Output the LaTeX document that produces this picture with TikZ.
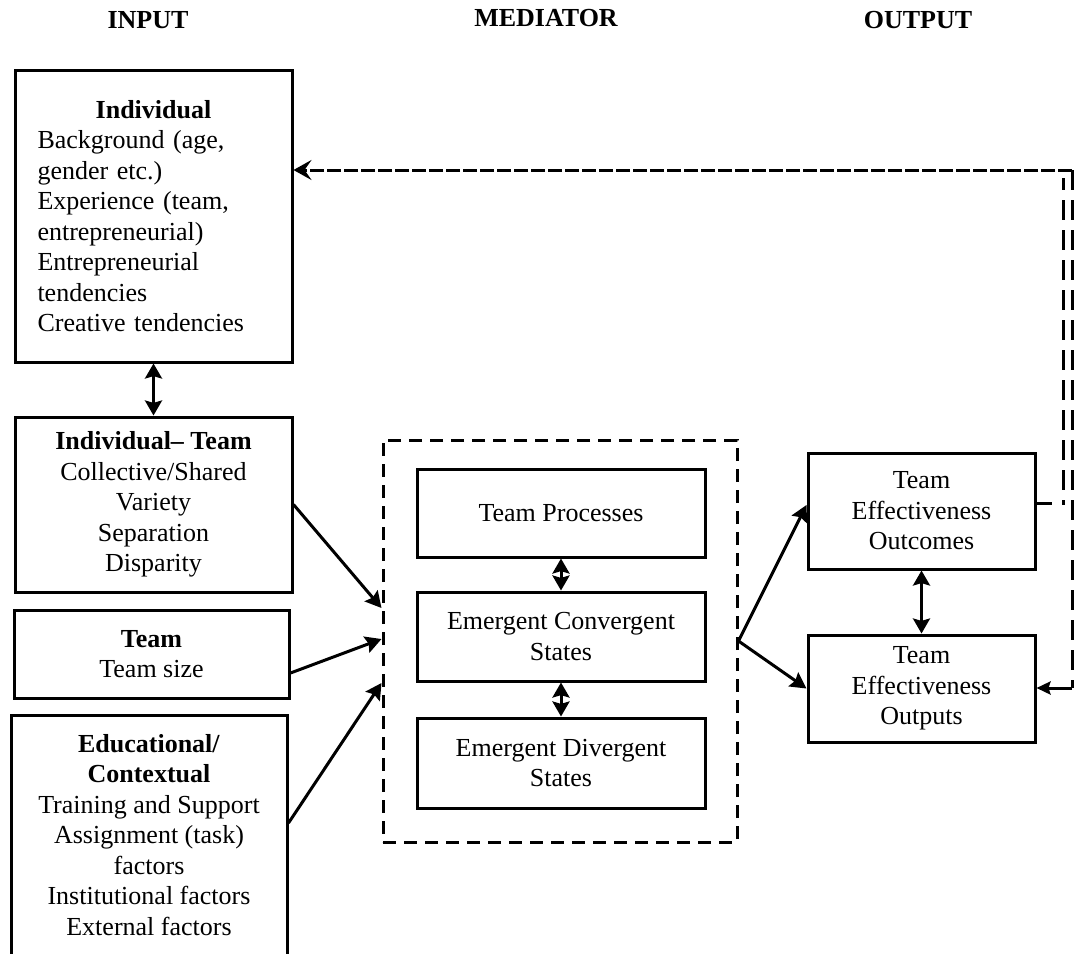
\documentclass[tikz,border=0pt]{standalone}
\usepackage{fontspec}
\setmainfont{Liberation Serif}
\usetikzlibrary{arrows.meta,calc}
\newcommand\bodyfont{\fontsize{13pt}{15.25pt}\selectfont}

\begin{document}
\begin{tikzpicture}[x=0.5pt,y=-0.5pt,
  box/.style={draw, line width=1.5pt, inner sep=0pt, align=center, font=\bodyfont},
  head/.style={font=\bodyfont\bfseries, anchor=base},
  arr/.style={line width=1.5pt, -{Stealth[length=8pt,width=8.5pt,inset=1.2pt]}},
  darr/.style={line width=1.5pt, {Stealth[length=7.5pt,width=8.5pt,inset=1.2pt]}-{Stealth[length=7.5pt,width=8.5pt,inset=1.2pt]}},
  fbh/.style={line width=1.5pt, dash pattern=on 7pt off 1.5pt},
  fbv/.style={line width=1.5pt, dash pattern=on 10pt off 5pt},
]
\useasboundingbox (0,0) rectangle (1075,953);
\clip (0,0) rectangle (1075,953);

% column headings
\node[head] (hin)  at (148,28) {INPUT};
\node[head] (hmed) at (546,26) {MEDIATOR};
\node[head] (hout) at (918,28) {OUTPUT};

% input column
\node[box, minimum width=138.5pt, minimum height=146pt, text width=116pt, align=left] (ind) at (153.5,216)
  {\makebox[\linewidth]{\textbf{Individual}}\\ Background (age,\\ gender etc.)\\ Experience (team,\\ entrepreneurial)\\ Entrepreneurial\\ tendencies\\ Creative tendencies};
\node[box, minimum width=138.5pt, minimum height=87.5pt] (indteam) at (153.5,504.5)
  {\textbf{Individual– Team}\\ Collective/Shared\\ Variety\\ Separation\\ Disparity};
\node[box, minimum width=137.5pt, minimum height=44pt] (team) at (151.5,654)
  {\textbf{Team}\\ Team size};
\node[box, minimum width=138pt, minimum height=120pt] (edu) at (149,835)
  {\textbf{Educational/}\\ \textbf{Contextual}\\ Training and Support\\ Assignment (task)\\ factors\\ Institutional factors\\ External factors};

% mediator column
\node[draw, line width=1.5pt, dash pattern=on 6.5pt off 4pt, minimum width=177pt, minimum height=201pt, inner sep=0pt] (med) at (560,641) {};
\node[box, minimum width=144pt, minimum height=44pt] (proc) at (561,513) {Team Processes};
\node[box, minimum width=144pt, minimum height=44.5pt] (conv) at (561,636.5) {Emergent Convergent\\ States};
\node[box, minimum width=144pt, minimum height=45pt] (div) at (561,763) {Emergent Divergent\\ States};

% output column
\node[box, minimum width=113.5pt, minimum height=58pt] (outc) at (921.5,511) {Team\\ Effectiveness\\ Outcomes};
\node[box, minimum width=113.5pt, minimum height=53.5pt] (outp) at (921.5,688.5) {Team\\ Effectiveness\\ Outputs};

% helper coordinates
\coordinate (a1) at (383,608);
\coordinate (a2) at (383,639);
\coordinate (a3) at (383,683);
\coordinate (s2) at (293,673);
\coordinate (s3) at (287,823);
\coordinate (o1) at (0,505);
\coordinate (fbtop) at (1072,170);
\coordinate (fbbot) at (1072,688);
\coordinate (fbl1) at (1063,178);
\coordinate (fbl2) at (1063,505);
\coordinate (stub) at (1052,503);

% input connectors
\draw[darr] (ind.south) -- (indteam.north);
\draw[arr] (indteam.east) -- (med.west |- a1);
\draw[arr] (team.east |- s2) -- (med.west |- a2);
\draw[arr] (edu.east |- s3) -- (med.west |- a3);

% mediator connectors
\draw[darr] (proc.south) -- (conv.north);
\draw[darr] (conv.south) -- (div.north);

% output connectors
\draw[arr] (med.east) -- (outc.west |- o1);
\draw[arr] (med.east) -- (outp.west);
\draw[darr] (outc.south) -- (outp.north);

% feedback loop
\draw[fbh, -{Stealth[length=9pt,width=10pt,inset=3.5pt]}] (fbtop) -- (ind.east |- fbtop);
\draw[fbv] (fbtop) -- (fbbot);
\draw[line width=1.5pt, -{Stealth[length=7pt,width=6.5pt,inset=1pt]}] (fbbot) -- (outp.east |- fbbot);
\draw[fbv, dash phase=4pt] (fbl1) -- (fbl2);
\draw[line width=1.5pt] (outc.east |- stub) -- (stub);
\end{tikzpicture}
\end{document}
